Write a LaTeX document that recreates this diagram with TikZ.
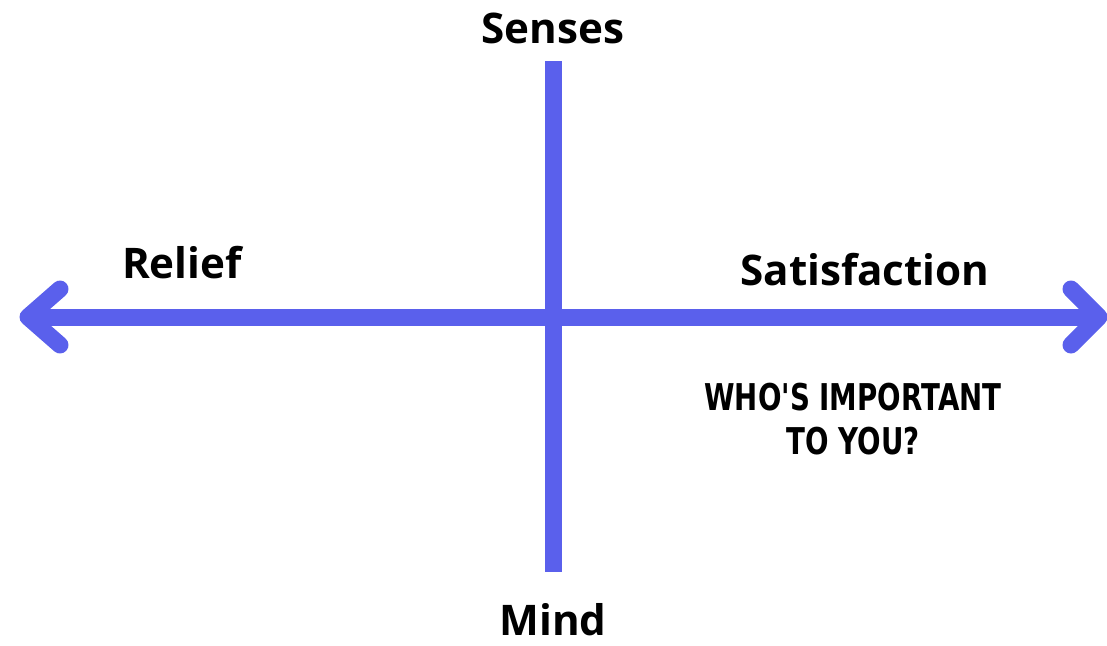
\documentclass[tikz,border=0pt]{standalone}
\usepackage{fontspec}
\setmainfont{Open Sans}
\newfontfamily\shoutfont{DejaVu Sans}
\usepackage{xcolor}
\usetikzlibrary{positioning}
\definecolor{axisblue}{RGB}{90,96,236}

\begin{document}
\begin{tikzpicture}[x=0.02cm, y=-0.02cm, font=\bfseries]
    \useasboundingbox (0,0) rectangle (1107,646);
    \tikzset{axis/.style={line width=0.34cm, axisblue},
             label/.style={font=\fontsize{24}{28}\selectfont\bfseries, inner sep=0pt}}

    % axis end points
    \coordinate (west) at (28,317);
    \coordinate (east) at (1099,317);
    \coordinate (top) at (553,61);
    \coordinate (bottom) at (553,572);

    \draw[axis] (west) -- (east);
    \draw[axis] (top) -- (bottom);
    \draw[axis, line cap=round, line join=round] (60,289) -- (west) -- (60,345);
    \draw[axis, line cap=round, line join=round] (1071,289) -- (east) -- (1071,345);

    \node[label] (senses) at (553,28) {Senses};
    \node[label] (mind) at (553,620) {Mind};
    \node[label] (relief) at (182,263) {Relief};
    \node[label] (satis) at (865,270) {Satisfaction};
    \node[font=\shoutfont\fontsize{21}{25}\selectfont\bfseries, align=center, xscale=0.75] (who) at (853,419) {WHO'S IMPORTANT\\TO YOU?};
\end{tikzpicture}
\end{document}
